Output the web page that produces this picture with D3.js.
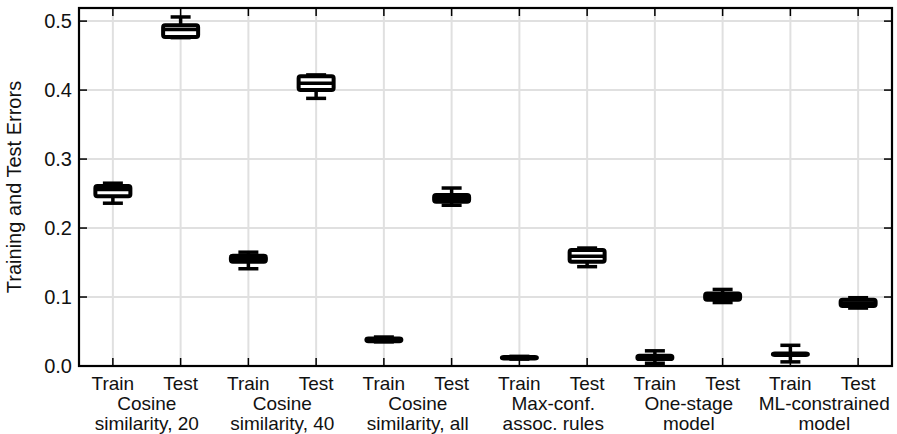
<!DOCTYPE html>
<html>
<head>
<meta charset="utf-8">
<script src="https://cdn.jsdelivr.net/npm/d3@7"></script>
<style>
	body { margin: 0; background: #fff; }
	svg text { font-family: "Liberation Sans", Arial, Helvetica, sans-serif; fill: #111; }
</style>
</head>
<body>
<svg id="chart" width="897" height="434"></svg>
<script>
"use strict";

// Groups (two boxes each: Train, Test)
var groups = [
	["Cosine", "similarity, 20"],
	["Cosine", "similarity, 40"],
	["Cosine", "similarity, all"],
	["Max-conf.", "assoc. rules"],
	["One-stage", "model"],
	["ML-constrained", "model"]
];
var splits = ["Train", "Test"];

// box stats, one value per box (Train, Test, Train, Test, ...)
var whiskerLow  = [0.236, 0.476, 0.141, 0.388, 0.035, 0.233, 0.010, 0.144, 0.004, 0.092, 0.006, 0.084];
var q1          = [0.246, 0.477, 0.151, 0.400, 0.036, 0.238, 0.011, 0.151, 0.010, 0.096, 0.016, 0.087];
var median      = [0.256, 0.488, 0.1555, 0.410, 0.038, 0.243, 0.012, 0.159, 0.013, 0.1005, 0.017, 0.0915];
var q3          = [0.261, 0.494, 0.160, 0.420, 0.040, 0.248, 0.013, 0.168, 0.015, 0.105, 0.018, 0.096];
var whiskerHigh = [0.265, 0.506, 0.165, 0.422, 0.042, 0.258, 0.014, 0.171, 0.022, 0.111, 0.030, 0.099];

var yTicks = [0, 0.1, 0.2, 0.3, 0.4, 0.5];

var margin = {top: 8, right: 5, bottom: 68, left: 79},
	width = 897 - margin.left - margin.right,
	height = 434 - margin.top - margin.bottom;

var svg = d3.select('#chart');
var g = svg.append('g').attr('transform', 'translate(' + margin.left + ',' + margin.top + ')');

var boxes = whiskerLow.map(function(d, i) {
	return {
		id: i,
		split: splits[i % 2],
		lo: d, q1: q1[i], med: median[i], q3: q3[i], hi: whiskerHigh[i]
	};
});

var x = d3.scaleBand()
	.domain(boxes.map(function(d) { return d.id; }))
	.range([0, width]);

var y = d3.scaleLinear()
	.domain([0, 0.519])
	.range([height, 0]);

var cx = function(d) { return x(d.id) + x.bandwidth() / 2; };

// grid
g.append('g').selectAll('line.vg')
	.data(boxes).enter().append('line')
	.attr('x1', cx).attr('x2', cx)
	.attr('y1', 0).attr('y2', height)
	.attr('stroke', '#e0e0e0').attr('stroke-width', 2);

g.append('g').selectAll('line.hg')
	.data(yTicks.slice(1)).enter().append('line')
	.attr('x1', 0).attr('x2', width)
	.attr('y1', function(d) { return y(d); })
	.attr('y2', function(d) { return y(d); })
	.attr('stroke', '#e0e0e0').attr('stroke-width', 2);

// ticks (inward on all four sides)
var tickLen = 8;
var ticks = g.append('g').attr('stroke', '#000').attr('stroke-width', 1.5);
ticks.selectAll('line.yl').data(yTicks).enter().append('line')
	.attr('x1', 0).attr('x2', tickLen)
	.attr('y1', function(d) { return y(d); }).attr('y2', function(d) { return y(d); });
ticks.selectAll('line.yr').data(yTicks).enter().append('line')
	.attr('x1', width - tickLen).attr('x2', width)
	.attr('y1', function(d) { return y(d); }).attr('y2', function(d) { return y(d); });
ticks.selectAll('line.xb').data(boxes).enter().append('line')
	.attr('x1', cx).attr('x2', cx)
	.attr('y1', height).attr('y2', height - tickLen);
ticks.selectAll('line.xt').data(boxes).enter().append('line')
	.attr('x1', cx).attr('x2', cx)
	.attr('y1', 0).attr('y2', tickLen);

// boxes
var boxW = 35, capW = 20, lw = 4;
var bx = g.append('g').selectAll('g.box')
	.data(boxes).enter().append('g')
	.attr('class', 'box');

bx.append('line')
	.attr('x1', cx).attr('x2', cx)
	.attr('y1', function(d) { return y(d.lo); })
	.attr('y2', function(d) { return y(d.hi); })
	.attr('stroke', '#000').attr('stroke-width', 3.5);

bx.selectAll('line.cap')
	.data(function(d) { return [{c: cx(d), v: d.lo}, {c: cx(d), v: d.hi}]; })
	.enter().append('line')
	.attr('x1', function(d) { return d.c - capW / 2; })
	.attr('x2', function(d) { return d.c + capW / 2; })
	.attr('y1', function(d) { return y(d.v); })
	.attr('y2', function(d) { return y(d.v); })
	.attr('stroke', '#000').attr('stroke-width', 3.5);

bx.append('rect')
	.attr('x', function(d) { return cx(d) - boxW / 2; })
	.attr('width', boxW)
	.attr('y', function(d) { return y(d.q3); })
	.attr('height', function(d) { return y(d.q1) - y(d.q3); })
	.attr('rx', 2)
	.attr('fill', '#fff')
	.attr('stroke', '#000').attr('stroke-width', lw);

bx.append('line')
	.attr('x1', function(d) { return cx(d) - boxW / 2; })
	.attr('x2', function(d) { return cx(d) + boxW / 2; })
	.attr('y1', function(d) { return y(d.med); })
	.attr('y2', function(d) { return y(d.med); })
	.attr('stroke', '#000').attr('stroke-width', 3.5);

// frame
g.append('rect')
	.attr('width', width).attr('height', height)
	.attr('fill', 'none')
	.attr('stroke', '#000').attr('stroke-width', 2.2);

// y tick labels
g.append('g').selectAll('text')
	.data(yTicks).enter().append('text')
	.attr('x', -7)
	.attr('y', function(d) { return y(d); })
	.attr('dy', '0.36em')
	.attr('text-anchor', 'end')
	.style('font-size', '20px')
	.text(d3.format('.1f'));

// x labels
g.append('g').selectAll('text')
	.data(boxes).enter().append('text')
	.attr('x', cx)
	.attr('y', height + 24)
	.attr('text-anchor', 'middle')
	.style('font-size', '19px')
	.text(function(d) { return d.split; });

var gl = g.append('g').selectAll('text')
	.data(groups).enter().append('text')
	.attr('text-anchor', 'middle')
	.style('font-size', '19px');
gl.append('tspan')
	.attr('x', function(d, i) { return x(i * 2) + x.bandwidth(); })
	.attr('y', height + 44)
	.text(function(d) { return d[0]; });
gl.append('tspan')
	.attr('x', function(d, i) { return x(i * 2) + x.bandwidth(); })
	.attr('y', height + 64)
	.text(function(d) { return d[1]; });

// y axis title
svg.append('text')
	.attr('transform', 'translate(21,' + (margin.top + height / 2) + ') rotate(-90)')
	.attr('text-anchor', 'middle')
	.style('font-size', '20px')
	.text('Training and Test Errors');
</script>
</body>
</html>
